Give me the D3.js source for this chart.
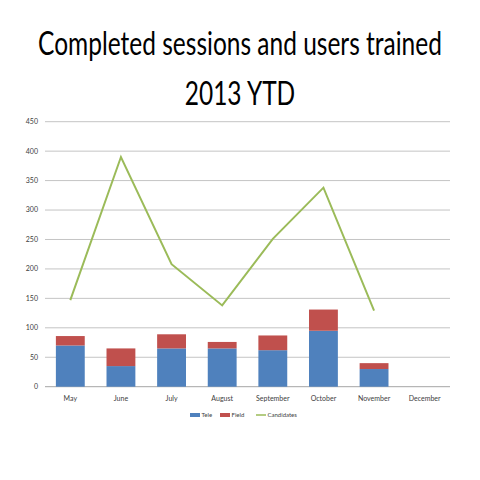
<!DOCTYPE html>
<html>
<head>
<meta charset="utf-8">
<script src="https://cdn.jsdelivr.net/npm/d3@7"></script>
<style>
  body { margin: 0; background: #fff; }
  text { font-family: Lato, "Open Sans", sans-serif; }
</style>
</head>
<body>
<div id="chart"></div>
<script>
// data
var months = ["May", "June", "July", "August", "September", "October", "November", "December"];
var tele = [70, 35, 65, 65, 62, 95, 30, null];
var field = [16, 30, 24, 11, 25, 36, 10, null];
var candidates = [147, 390, 208, 138, 251, 338, 129, null];
var yTicks = [0, 50, 100, 150, 200, 250, 300, 350, 400, 450];

var colors = { tele: "#4F81BD", field: "#C0504D", candidates: "#9BBB59" };

var W = 480, H = 480;
var margin = { top: 121.7, right: 30, bottom: 93.3, left: 45 },
    width = W - margin.left - margin.right,
    height = H - margin.top - margin.bottom;

var svg = d3.select("#chart").append("svg")
    .attr("width", W)
    .attr("height", H);

// title: the reference font is narrow, so squeeze the lines horizontally
var titleLines = ["Completed sessions and users trained", "2013 YTD"];
var tg1 = svg.append("g");
var t1 = tg1.append("text")
    .attr("text-anchor", "middle")
    .attr("font-size", 32)
    .attr("fill", "#000")
    .text(titleLines[0]);
var k = Math.min(1, 404 / t1.node().getComputedTextLength());
tg1.attr("transform", "translate(240,55) scale(" + k + ",1)");
svg.append("g")
    .attr("transform", "translate(240,105) scale(" + k + ",1)")
  .append("text")
    .attr("text-anchor", "middle")
    .attr("font-size", 32)
    .attr("fill", "#000")
    .text(titleLines[1]);

var g = svg.append("g")
    .attr("transform", "translate(" + margin.left + "," + margin.top + ")");

var x = d3.scaleBand().domain(months).range([0, width]).paddingInner(0.43).paddingOuter(0.215);
var y = d3.scaleLinear().domain([0, 450]).range([height, 0]);

// gridlines
g.selectAll("line.grid")
    .data(yTicks)
    .enter().append("line")
    .attr("class", "grid")
    .attr("x1", 0).attr("x2", width)
    .attr("y1", function(d) { return y(d); })
    .attr("y2", function(d) { return y(d); })
    .attr("stroke", function(d) { return d === 0 ? "#a6a6a6" : "#c4c4c4"; })
    .attr("stroke-width", 1);

// y labels
g.selectAll("text.ytick")
    .data(yTicks)
    .enter().append("text")
    .attr("class", "ytick")
    .attr("x", -7)
    .attr("y", function(d) { return y(d); })
    .attr("dy", "0.35em")
    .attr("text-anchor", "end")
    .attr("font-size", 7)
    .attr("fill", "#404040")
    .text(function(d) { return d; });

// x labels
g.selectAll("text.xtick")
    .data(months)
    .enter().append("text")
    .attr("class", "xtick")
    .attr("x", function(d) { return x(d) + x.bandwidth() / 2; })
    .attr("y", height + 14)
    .attr("text-anchor", "middle")
    .attr("font-size", 7)
    .attr("fill", "#404040")
    .text(function(d) { return d; });

// stacked bars
var stackData = months.map(function(m, i) {
    return { month: m, tele: tele[i] || 0, field: field[i] || 0 };
});
var series = d3.stack().keys(["tele", "field"])(stackData);

g.selectAll("g.series")
    .data(series)
    .enter().append("g")
    .attr("class", "series")
    .attr("fill", function(d) { return colors[d.key]; })
  .selectAll("rect")
    .data(function(d) { return d.filter(function(p) { return p[1] > p[0]; }); })
    .enter().append("rect")
    .attr("x", function(d) { return x(d.data.month); })
    .attr("y", function(d) { return y(d[1]); })
    .attr("width", x.bandwidth())
    .attr("height", function(d) { return y(d[0]) - y(d[1]); });

// candidates line
var line = d3.line()
    .defined(function(d) { return d != null; })
    .x(function(d, i) { return x(months[i]) + x.bandwidth() / 2; })
    .y(function(d) { return y(d); });

g.append("path")
    .datum(candidates)
    .attr("fill", "none")
    .attr("stroke", colors.candidates)
    .attr("stroke-width", 2)
    .attr("d", line);

// legend
var legend = svg.append("g").attr("transform", "translate(0,415)");
var items = [
    { name: "Tele", key: "tele", x: 190, type: "rect" },
    { name: "Field", key: "field", x: 220, type: "rect" },
    { name: "Candidates", key: "candidates", x: 256, type: "line" }
];
items.forEach(function(it) {
    if (it.type === "rect") {
        legend.append("rect")
            .attr("x", it.x).attr("y", -2)
            .attr("width", 10).attr("height", 4)
            .attr("fill", colors[it.key]);
    } else {
        legend.append("line")
            .attr("x1", it.x).attr("x2", it.x + 10)
            .attr("y1", 0).attr("y2", 0)
            .attr("stroke", colors[it.key])
            .attr("stroke-width", 1.5);
    }
    legend.append("text")
        .attr("x", it.x + 11.5).attr("y", 0)
        .attr("dy", "0.35em")
        .attr("font-size", 6)
        .attr("fill", "#404040")
        .text(it.name);
});
</script>
</body>
</html>
